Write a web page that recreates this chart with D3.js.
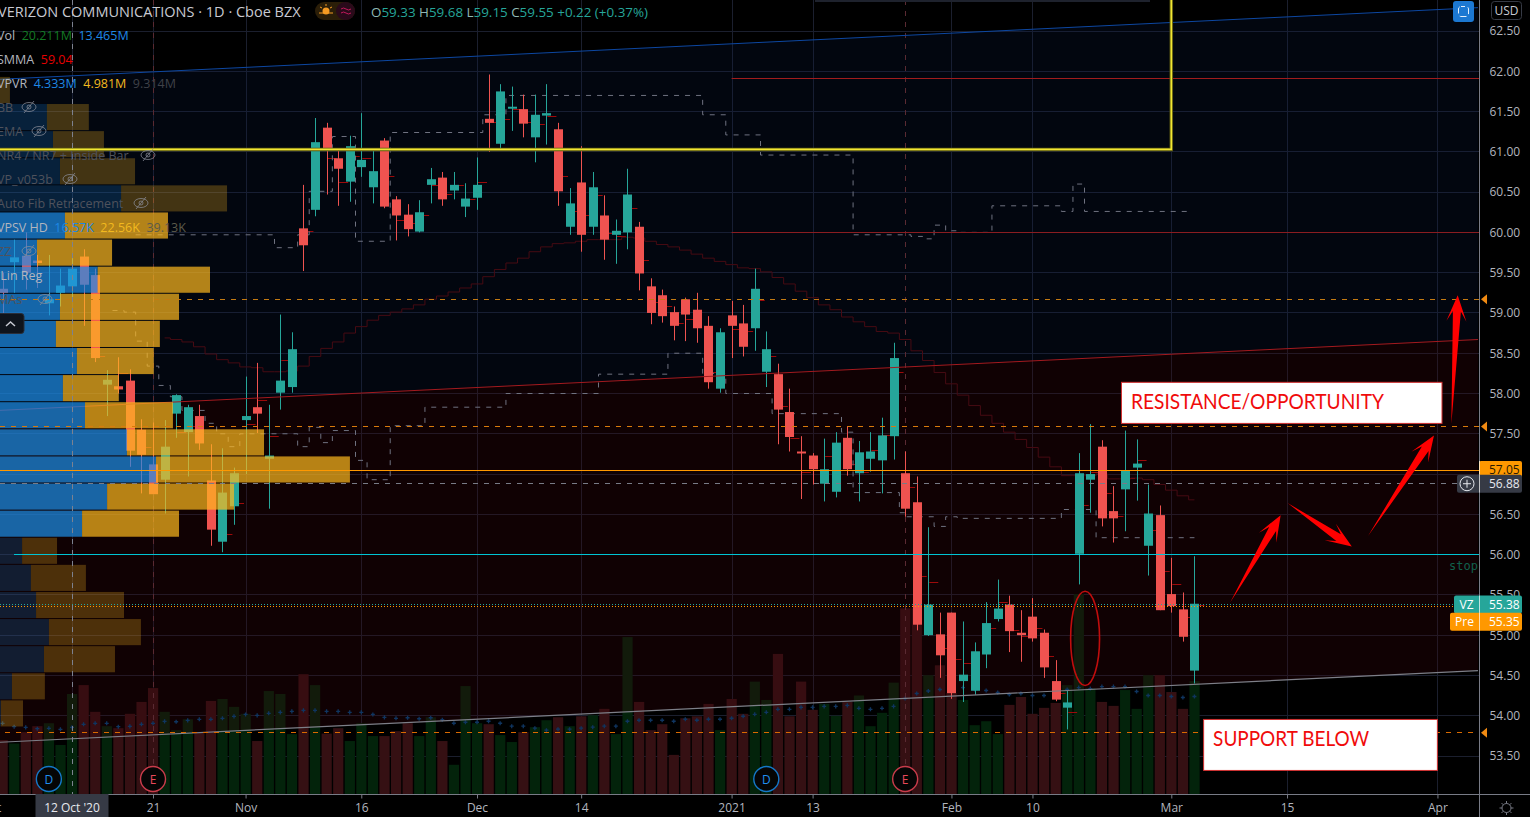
<!DOCTYPE html>
<html>
<head>
<meta charset="utf-8">
<title>VZ</title>
<script src="https://cdn.jsdelivr.net/npm/d3@7"></script>
<style>
html, body { margin: 0; padding: 0; background: #000; overflow: hidden; }
text { font-family: "Open Sans", "Noto Sans", sans-serif; }
</style>
</head>
<body>
<div id="chart"></div>
<script>
// daily bars, first one sits 6 sessions before 12 Oct '20 (bar 0)
var firstBar = -6
var opens = [59.30,59.63,59.71,59.65,59.12,59.25,
  59.33,59.70,59.47,58.11,58.09,58.16,57.55,57.12,56.93,57.75,
  57.52,57.72,56.92,56.16,56.60,57.67,57.83,57.19,58.01,58.08,
  60.05,60.28,61.30,60.92,60.63,60.81,60.56,61.14,60.41,60.22,
  60.01,60.59,60.68,60.52,60.32,60.43,61.41,61.10,61.54,61.53,
  61.18,61.45,61.28,60.07,60.62,60.07,60.21,59.97,60.00,60.07,
  59.33,59.22,59.01,59.17,59.04,58.84,58.06,58.97,58.87,58.81,
  58.27,58.24,57.77,57.28,57.23,56.88,56.78,57.45,57.01,57.19,
  57.17,57.47,57.01,56.65,55.00,55.01,55.28,54.43,54.31,54.76,
  55.20,55.38,55.03,55.23,55.03,54.43,54.10,56.01,56.93,57.34,
  56.54,56.81,57.08,56.11,56.49,55.51,55.32,54.56]
var highs = [59.50,59.91,60.00,59.72,59.72,59.55,
  59.68,59.79,59.55,58.29,58.45,58.30,57.68,57.64,57.67,57.99,
  57.86,57.86,57.37,57.32,57.08,58.21,58.38,57.86,58.98,58.76,
  60.59,61.42,61.36,61.02,61.20,61.48,61.03,61.17,60.45,60.35,
  60.40,60.80,60.75,60.75,60.61,60.93,61.96,61.84,61.81,61.71,
  61.71,61.84,61.36,60.55,61.07,60.75,60.46,60.16,60.79,60.13,
  59.43,59.29,59.08,59.19,59.25,58.96,58.81,59.15,59.10,59.55,
  58.77,58.37,58.06,57.47,57.26,57.44,57.52,57.59,57.41,57.52,
  57.70,58.63,57.28,56.97,56.34,55.28,55.28,55.17,54.91,55.41,
  55.69,55.49,55.31,55.46,55.07,54.69,54.32,57.26,57.62,57.42,
  56.85,57.54,57.43,56.87,56.61,55.96,55.53,55.98]
var lows = [58.90,59.25,59.29,59.31,58.97,59.08,
  59.15,58.84,58.39,57.72,58.00,57.09,56.76,56.75,56.51,57.45,
  56.97,57.30,56.11,56.03,56.37,57.00,57.51,56.57,57.80,58.01,
  59.52,60.20,60.47,60.33,60.38,60.69,60.36,60.30,59.90,59.95,
  60.00,60.36,60.33,60.41,60.19,60.28,61.00,61.04,61.26,61.18,
  60.87,61.09,60.33,59.97,59.76,59.97,59.66,59.61,59.79,59.28,
  58.86,58.88,58.66,58.65,58.63,58.06,58.01,58.44,58.46,58.53,
  58.08,57.37,57.28,56.69,56.87,56.66,56.71,56.98,56.66,57.03,
  56.76,57.18,56.47,55.06,54.99,54.47,54.21,54.17,54.26,54.59,
  55.17,54.79,54.67,54.92,54.47,54.18,53.83,55.63,56.52,56.35,
  56.15,56.29,56.67,55.74,55.31,55.28,54.92,54.40]
var closes = [59.25,59.69,59.50,59.62,59.17,59.34,
  59.55,59.35,58.44,58.17,58.05,57.29,57.24,56.75,57.34,57.98,
  57.83,57.38,56.31,56.77,57.01,57.72,57.75,57.23,58.16,58.55,
  59.84,61.12,61.01,60.79,61.07,60.90,60.76,60.32,60.21,60.04,
  60.25,60.66,60.41,60.59,60.42,60.59,61.36,61.75,61.56,61.35,
  61.46,61.48,60.51,60.36,59.97,60.56,59.91,60.02,60.47,59.49,
  59.00,58.96,58.84,58.98,58.81,58.14,58.76,58.84,58.58,59.30,
  58.55,57.80,57.46,57.26,57.06,57.06,57.39,57.06,57.27,57.28,
  57.48,58.44,56.57,55.13,55.38,54.75,54.28,54.51,54.80,55.15,
  55.33,55.05,55.00,54.96,54.60,54.20,54.165,57.01,57.00,56.45,
  56.45,57.05,57.13,56.51,55.31,55.36,54.98,55.39]

// volume in millions and its moving average
var volumes = [10.9,10.2,12.5,13.7,14.3,9.9,
  20.2,22.0,16.6,13.7,13.3,16.2,18.6,21.4,16.6,12.9,
  15.1,12.5,18.8,19.2,17.6,16.2,10.7,20.8,20.2,12.1,
  24.2,22.0,12.2,13.3,10.7,14.3,11.7,11.7,12.7,14.3,
  11.7,15.5,10.7,5.9,21.8,14.3,14.1,11.9,10.5,12.5,
  13.5,14.9,15.5,13.7,15.7,15.9,17.2,12.1,31.7,18.6,
  12.9,14.1,7.9,15.3,15.7,18.2,12.9,19.2,16.2,22.7,
  19.0,28.3,15.7,22.7,17.0,18.2,15.8,18.6,19.9,13.7,
  16.4,22.5,37.5,37.5,24.0,26.0,20.4,19.0,13.9,14.7,
  12.1,18.0,19.6,16.2,17.4,18.4,22.0,40.4,21.4,18.6,
  17.8,21.0,17.2,24.0,24.0,20.6,17.2,22.8]
var volumeMa = [14.27,13.6,13.46,13.19,13.26,13.06,
  13.46,14.07,14.27,14.27,13.6,13.66,14.07,14.27,14.67,14.6,
  14.87,15.08,15.08,15.28,15.68,16.08,15.88,16.29,16.49,16.69,
  16.89,16.89,16.69,16.69,16.49,16.49,16.08,15.48,15.28,15.4,
  15.2,15.4,15.0,14.3,14.5,14.5,14.7,14.3,13.7,13.7,
  13.3,12.9,13.1,13.1,13.3,13.5,13.7,13.7,14.7,14.9,
  14.9,14.9,14.7,15.1,14.9,15.1,15.1,15.3,15.7,16.1,
  16.5,17.1,17.1,17.5,17.5,17.7,17.7,17.9,17.3,17.1,
  17.3,17.7,19.3,20.3,20.8,21.1,21.5,21.5,21.1,20.9,
  20.5,20.1,20.3,19.9,19.9,20.3,21.1,21.5,21.3,21.7,
  21.7,21.7,20.7,19.9,19.9,19.7,19.5,19.7]

// SMMA, starts at bar 8 (the earlier part is lost under the profile)
var smmaFirstBar = 8
var smma = [58.69,58.67,
  58.64,58.58,58.49,58.42,58.38,58.33,58.32,58.27,58.27,58.28,
  58.34,58.46,58.56,58.64,58.75,58.83,58.91,58.97,59.01,59.05,
  59.10,59.17,59.21,59.26,59.31,59.36,59.45,59.54,59.62,59.68,
  59.76,59.82,59.86,59.87,59.89,59.91,59.91,59.91,59.94,59.93,
  59.89,59.85,59.82,59.78,59.73,59.68,59.64,59.60,59.56,59.55,
  59.51,59.44,59.36,59.27,59.19,59.10,59.04,58.95,58.89,58.83,
  58.77,58.75,58.67,58.53,58.41,58.26,58.12,57.98,57.85,57.73,
  57.63,57.52,57.43,57.33,57.21,57.09,56.98,56.98,56.98,57.00,
  56.94,56.94,56.95,56.93,56.87,56.80,56.73,56.68]

// short dark red level ticks next to the candles
var levelBars = [2,4,6,9,10,13,14,15,16,17,18,20,22,23,24,25,27,28,29,30,31,32,33,34,35,36,37,38,39,40,41,42,43,44,45,46,47,48,49,
  50,51,52,53,55,57,58,59,60,61,62,63,65,67,68,69,70,71,72,73,74,75,76,77,79,80,81,82,83,84,85,86,87,88,89,90,91,92,93,94,95,96,97]
var levelPrices = [58.47,58.25,57.33,57.52,57.60,56.26,56.64,57.62,57.92,57.47,58.42,60.02,60.92,60.63,60.95,60.92,60.70,60.16,60.12,60.21,60.59,60.48,60.59,60.42,60.63,61.37,61.41,61.53,61.37,61.35,61.45,60.70,60.27,60.21,60.46,59.99,59.96,60.30,59.66,
  59.13,59.09,58.88,58.92,58.27,58.80,58.78,59.16,58.46,57.85,57.45,57.03,57.22,57.13,57.03,57.30,57.49,58.27,56.84,55.74,55.66,54.84,54.71,54.66,55.09,55.41,55.06,54.99,55.09,54.74,54.28,54.05,56.62,57.03,56.77,56.48,56.95,57.17,56.31,55.80,55.63,55.23,55.38]

// zigzag style stepped dashed levels: [bar where the step starts, price]
var upperSteps = [[5.5,59.97],[17.5,59.81],[19.5,59.97],[20.5,60.51],[22.5,61.19],[24.5,59.89],[27.5,61.24],[35.5,61.46],[37.5,61.70],
  [54.5,61.46],[56.5,61.21],[59.5,60.96],[67.5,59.97],[72.5,59.95],[73.5,59.92],[74.5,60.09],[75.5,60.02],[76.5,60.00],[79.5,60.33],
  [85.5,60.26],[86.5,60.60],[87.5,60.26],[96.6,60.26]]
var lowerSteps = [[3.5,59.03],[4.5,59.01],[5.5,58.65],[6.5,58.34],[7.5,58.10],[8.5,57.96],[9.5,57.79],[11.5,57.63],[12.5,57.50],[13.5,57.34],
  [14.5,57.50],[19.5,57.34],[20.5,57.58],[21.5,57.39],[22.5,57.54],[24.5,57.17],[25.5,56.93],[27.5,57.60],[30.5,57.83],[37.5,58.00],
  [45.5,58.24],[51.5,58.50],[54.5,58.25],[56.5,58.00],[60.5,57.75],[66.5,57.52],[67.5,56.77],[71.5,56.52],[72,56.47],[74.5,56.35],
  [75.5,56.47],[76.5,56.45],[85.5,56.56],[88.5,56.21],[97,56.21]]

// volume profile rows, top row first, in millions
var profileUp = [0,2.08,2.35,2.66,5.37,2.88,1.64,4.333,2.66,2.48,3.41,2.79,3.77,5.63,6.92,4.75,3.64,0.98,1.37,1.60,2.17,1.95,0.53,0.04]
var profileDown = [0.44,1.86,2.26,3.33,4.70,4.57,3.33,4.981,5.28,4.61,3.41,2.48,3.90,6.08,8.60,5.63,4.30,1.55,2.44,3.90,4.08,3.15,1.46,0.98]
var profileTop = 61.93
var profileStep = 0.3365
var valueAreaFirst = 5
var valueAreaLast = 16

// channel edges, from bar -6.3 to bar 121.5
var channelBars = [-6.3, 121.5]
var blueEdge = [61.90, 62.79]
var redEdge = [57.79, 58.67]
var greyEdge = [53.67, 54.56]

var priceTicks = [62.5,62,61.5,61,60.5,60,59.5,59,58.5,58,57.5,57,56.5,56,55.5,55,54.5,54,53.5]
var timeTickBars = [-7,0,7,15,25,35,44,57,64,76,83,95,105,118]
var timeTickLabels = ['Oct',"12 Oct '20",'21','Nov','16','Dec','14','2021','13','Feb','10','Mar','15','Apr']

var eventBars = [-2,7,60,72]
var eventKinds = ['D','E','D','E']

// drawn arrows: [tail bar, tail price, tip bar, tip price]
var arrows = [[100.1,55.41,104.45,56.49],[105.05,56.64,110.6,56.10],[112,56.23,117.7,57.48],[119.2,57.62,119.75,59.22]]

var width = 1530, height = 817
var paneRight = 1479, paneBottom = 794

var svg = d3.select('#chart').append('svg')
  .attr('width', width).attr('height', height)
  .style('display', 'block').style('background', '#000')

svg.append('defs').append('clipPath').attr('id', 'pane')
  .append('rect').attr('x', 0).attr('y', 0).attr('width', paneRight).attr('height', paneBottom)

var x = d3.scaleLinear().domain([0, 95]).range([72, 1171.3])
var y = d3.scaleLinear().domain([62.5, 53.5]).range([31, 756])
var yVol = d3.scaleLinear().domain([0, 40.4]).range([paneBottom, 594])
var xProfile = d3.scaleLinear().domain([0, 9.314]).range([0, 210])

var bars = d3.range(opens.length).map(function(k){
  return {i: k + firstBar, o: opens[k], h: highs[k], l: lows[k], c: closes[k], v: volumes[k], ma: volumeMa[k]}
})

var pane = svg.append('g').attr('clip-path', 'url(#pane)')

// grid first, everything else goes over it
pane.append('g').selectAll('line').data(priceTicks).enter().append('line')
  .attr('x1', 0).attr('x2', paneRight)
  .attr('y1', function(d){ return Math.floor(y(d)) + .5 }).attr('y2', function(d){ return Math.floor(y(d)) + .5 })
  .attr('stroke', '#1b1f2e')
pane.append('g').selectAll('line').data(timeTickBars).enter().append('line')
  .attr('x1', function(d){ return Math.round(x(d)) + .5 }).attr('x2', function(d){ return Math.round(x(d)) + .5 })
  .attr('y1', 0).attr('y2', paneBottom)
  .attr('stroke', '#1b1f2e')

// volume
pane.append('g').selectAll('rect').data(bars).enter().append('rect')
  .attr('x', function(d){ return x(d.i) - 5 })
  .attr('width', 10.2)
  .attr('y', function(d){ return yVol(d.v) })
  .attr('height', function(d){ return paneBottom - yVol(d.v) })
  .attr('fill', function(d){ return d.c > d.o ? '#03230b' : '#351013' })

// channel fills sit on top of the volume bars, that is why the bars change tint at the grey line
function channelFill(top, bottom, color){
  var area = d3.area()
    .x(function(d){ return x(d) })
    .y0(function(d, k){ return y(bottom[k]) })
    .y1(function(d, k){ return y(top[k]) })
  pane.append('path').datum(channelBars).attr('d', area).attr('fill', color)
}
channelFill(blueEdge, redEdge, 'rgba(10,30,75,.2)')
channelFill(redEdge, greyEdge, 'rgba(62,2,12,.25)')

// volume average crosses
pane.append('g').selectAll('path').data(bars).enter().append('path')
  .attr('d', d3.symbol().type(d3.symbolCross).size(9))
  .attr('transform', function(d){ return 'translate(' + x(d.i) + ',' + yVol(d.ma) + ')' })
  .attr('fill', '#0f3560')

// dividend and earnings day guides
pane.append('g').selectAll('line').data([7, 72]).enter().append('line')
  .attr('x1', function(d){ return Math.round(x(d)) + .5 }).attr('x2', function(d){ return Math.round(x(d)) + .5 })
  .attr('y1', 0).attr('y2', 764)
  .attr('stroke', '#5a2a32').attr('stroke-dasharray', '5 6')

// red level ticks
pane.append('g').selectAll('line').data(levelBars).enter().append('line')
  .attr('x1', function(d){ return x(d) + 1 }).attr('x2', function(d){ return x(d) + 10 })
  .attr('y1', function(d, k){ return Math.round(y(levelPrices[k])) + .5 })
  .attr('y2', function(d, k){ return Math.round(y(levelPrices[k])) + .5 })
  .attr('stroke', '#9c0a0a').attr('stroke-width', 1)

// SMMA
var smmaLine = d3.line()
  .x(function(d, k){ return x(k + smmaFirstBar) })
  .y(function(d){ return y(d) })
  .curve(d3.curveStep)
pane.append('path').datum(smma).attr('d', smmaLine)
  .attr('fill', 'none').attr('stroke', '#470b13').attr('stroke-width', 1)

// stepped dashed levels
var stepLine = d3.line()
  .x(function(d){ return x(d[0]) })
  .y(function(d){ return y(d[1]) })
  .curve(d3.curveStepAfter)
;[upperSteps, lowerSteps].forEach(function(steps){
  pane.append('path').datum(steps).attr('d', stepLine)
    .attr('fill', 'none').attr('stroke', '#6f7280').attr('stroke-width', 1).attr('stroke-dasharray', '5 6')
})

// candles
var candleUp = '#26a69a', candleDown = '#ef5350'
var candles = pane.append('g').selectAll('g').data(bars).enter().append('g')
candles.append('line')
  .attr('x1', function(d){ return Math.round(x(d.i)) + .5 }).attr('x2', function(d){ return Math.round(x(d.i)) + .5 })
  .attr('y1', function(d){ return y(d.h) }).attr('y2', function(d){ return y(d.l) })
  .attr('stroke', function(d){ return d.c > d.o ? candleUp : candleDown })
candles.append('rect')
  .attr('x', function(d){ return Math.round(x(d.i)) - 4 })
  .attr('width', 9)
  .attr('y', function(d){ return y(Math.max(d.o, d.c)) })
  .attr('height', function(d){ return Math.max(2, Math.abs(y(d.o) - y(d.c))) })
  .attr('fill', function(d){ return d.c > d.o ? candleUp : candleDown })

// channel edges
function edge(prices, color, w){
  var line = d3.line().x(function(d){ return x(d) }).y(function(d, k){ return y(prices[k]) })
  pane.append('path').datum(channelBars).attr('d', line)
    .attr('fill', 'none').attr('stroke', color).attr('stroke-width', w)
}
edge(blueEdge, '#0d47a1', 1)
edge(redEdge, '#a31a1f', 1)
edge(greyEdge, '#7d7f88', 1.2)

// volume profile, translucent so the candles still show through
var rowHeight = y(0) - y(profileStep) - 1
var rows = profileUp.map(function(d, k){
  return {up: d, down: profileDown[k], k: k, price: profileTop - k * profileStep}
})
var profile = pane.append('g').selectAll('g').data(rows).enter().append('g')
function inValueArea(d){ return d.k >= valueAreaFirst && d.k <= valueAreaLast }
profile.append('rect')
  .attr('x', 0).attr('y', function(d){ return y(d.price) }).attr('height', rowHeight)
  .attr('width', function(d){ return xProfile(d.up) })
  .attr('fill', function(d){ return inValueArea(d) ? 'rgba(30,144,235,.7)' : 'rgba(30,144,235,.2)' })
profile.append('rect')
  .attr('x', function(d){ return xProfile(d.up) }).attr('y', function(d){ return y(d.price) }).attr('height', rowHeight)
  .attr('width', function(d){ return xProfile(d.down) })
  .attr('fill', function(d){ return inValueArea(d) ? 'rgba(255,185,30,.7)' : 'rgba(255,185,30,.26)' })

// horizontal levels
function level(price, fromX, color, w, dash){
  var yy = Math.floor(y(price)) + .5
  pane.append('line').attr('x1', fromX).attr('x2', paneRight).attr('y1', yy).attr('y2', yy)
    .attr('stroke', color).attr('stroke-width', w).attr('stroke-dasharray', dash || null)
}
level(61.91, x(57), '#a01c1c', 1)
level(60.00, x(57), '#8a1c20', 1)
level(59.17, 0, '#c47a12', 1, '5 6')
level(57.59, 0, '#d97a0c', 1, '5 6')
level(57.05, 0, '#ff9800', 1)
level(56.88, 0, '#787b86', 1, '5 6')
level(56.00, 14, '#00c4d4', 1)
level(55.38, 0, '#26a69a', 1, '1 2')
level(55.35, 0, '#ff9800', 1, '1 2')
level(53.79, 5, '#d96a00', 1, '5 6')

// yellow box, top edge runs off the chart
var boxRight = 95
var yellowPath = d3.line().x(function(d){ return x(d[0]) }).y(function(d){ return y(d[1]) })
var yellowPoints = [[-7, 61.03], [boxRight, 61.03], [boxRight, 63.2]]
pane.append('path').datum(yellowPoints).attr('d', yellowPath).attr('fill', 'none').attr('stroke', '#5c5a12').attr('stroke-width', 3.5)
pane.append('path').datum(yellowPoints).attr('d', yellowPath).attr('fill', 'none').attr('stroke', '#f2e632').attr('stroke-width', 1.6)

// crosshair on 12 Oct
pane.append('line').attr('x1', Math.round(x(0)) + .5).attr('x2', Math.round(x(0)) + .5).attr('y1', 0).attr('y2', paneBottom)
  .attr('stroke', '#7d8290').attr('stroke-dasharray', '5 6')

// red ellipse round the big volume day
pane.append('ellipse')
  .attr('cx', x(87.55)).attr('cy', y(54.96))
  .attr('rx', x(1.25) - x(0)).attr('ry', y(0) - y(0.585))
  .attr('fill', 'none').attr('stroke', '#c00d0d').attr('stroke-width', 1.6)

pane.append('text').attr('x', paneRight - 1).attr('y', y(55.81)).attr('text-anchor', 'end')
  .attr('font-size', 12).attr('fill', '#10604c').style('font-family', '"DejaVu Sans Mono", monospace').text('stop')

// arrows taper from the tail out to the head
function arrowPath(a){
  var x0 = x(a[0]), y0 = y(a[1]), x1 = x(a[2]), y1 = y(a[3])
  var len = Math.hypot(x1 - x0, y1 - y0)
  var ux = (x1 - x0) / len, uy = (y1 - y0) / len
  var nx = -uy, ny = ux
  var headLen = 26, headHalf = 10, neck = 16, neckHalf = 4
  var pts = [
    [x0, y0],
    [x1 - ux * neck + nx * neckHalf, y1 - uy * neck + ny * neckHalf],
    [x1 - ux * headLen + nx * headHalf, y1 - uy * headLen + ny * headHalf],
    [x1, y1],
    [x1 - ux * headLen - nx * headHalf, y1 - uy * headLen - ny * headHalf],
    [x1 - ux * neck - nx * neckHalf, y1 - uy * neck - ny * neckHalf]
  ]
  return d3.line()(pts) + 'Z'
}
pane.append('g').selectAll('path').data(arrows).enter().append('path')
  .attr('d', arrowPath).attr('fill', '#ff0000')

// annotation boxes, text squeezed to the narrow face of the original
function noteBox(x1, x2, priceTop, priceBottom, label, textY, textWidth){
  pane.append('rect').attr('x', x(x1) + .5).attr('width', x(x2) - x(x1))
    .attr('y', y(priceTop) + .5).attr('height', y(priceBottom) - y(priceTop))
    .attr('fill', '#fff').attr('stroke', '#d32f2f')
  pane.append('text').attr('x', x(x1) + 10).attr('y', textY)
    .attr('font-size', 21).attr('fill', '#f00b0b').style('font-family', 'Lato, sans-serif')
    .attr('textLength', textWidth).attr('lengthAdjust', 'spacingAndGlyphs').text(label)
}
noteBox(90.65, 118.35, 58.145, 57.635, 'RESISTANCE/OPPORTUNITY', 409, 253)
noteBox(97.75, 117.95, 53.96, 53.327, 'SUPPORT BELOW', 746, 156)

// earnings and dividend badges
var badges = svg.append('g').selectAll('g').data(eventBars).enter().append('g')
  .attr('transform', function(d){ return 'translate(' + x(d) + ',779)' })
badges.append('circle').attr('r', 12.5).attr('fill', '#050505')
  .attr('stroke', function(d, k){ return eventKinds[k] == 'D' ? '#1478c8' : '#c93c4b' }).attr('stroke-width', 1.4)
badges.append('text').attr('text-anchor', 'middle').attr('y', 4.5).attr('font-size', 12)
  .attr('fill', function(d, k){ return eventKinds[k] == 'D' ? '#2190ee' : '#e8485a' })
  .text(function(d, k){ return eventKinds[k] })

// axes panels
svg.append('rect').attr('x', paneRight).attr('y', 0).attr('width', width - paneRight).attr('height', height).attr('fill', '#000')
svg.append('rect').attr('x', 0).attr('y', paneBottom).attr('width', width).attr('height', height - paneBottom).attr('fill', '#000')

var axisRight = d3.axisRight(y).tickValues(priceTicks).tickFormat(d3.format('.2f')).tickSize(0).tickPadding(10)
var gRight = svg.append('g').attr('transform', 'translate(' + (paneRight + .5) + ',0)').call(axisRight)
gRight.selectAll('text').attr('fill', '#b2b5be').attr('font-size', 12).style('font-family', '"Open Sans", sans-serif')
gRight.select('.domain').attr('stroke', '#787b86').attr('d', 'M0,0V' + paneBottom)

var axisBottom = d3.axisBottom(x).tickValues(timeTickBars)
  .tickFormat(function(d, k){ return timeTickLabels[k] }).tickSize(4).tickPadding(5)
var gBottom = svg.append('g').attr('transform', 'translate(0,' + (paneBottom + .5) + ')').call(axisBottom)
gBottom.selectAll('text').attr('fill', '#b2b5be').attr('font-size', 12).style('font-family', '"Open Sans", sans-serif')
gBottom.selectAll('line').attr('stroke', '#787b86')
gBottom.select('.domain').attr('stroke', '#787b86').attr('d', 'M0,0H' + width)
svg.append('line').attr('x1', paneRight + .5).attr('x2', paneRight + .5).attr('y1', paneBottom).attr('y2', height).attr('stroke', '#787b86')

// crosshair date label sits over the bottom axis
var dateBox = svg.append('g').attr('transform', 'translate(' + x(0) + ',' + paneBottom + ')')
dateBox.append('rect').attr('x', -36.5).attr('y', 0).attr('width', 73).attr('height', 23).attr('fill', '#363a45')
dateBox.append('text').attr('text-anchor', 'middle').attr('y', 18).attr('font-size', 12).attr('fill', '#e6e8ee').text("12 Oct '20")

// price labels on the right axis, shift keeps two near prices from stacking
function priceTag(price, left, fill, label, value, color, shift){
  var yy = y(price) + (shift || 0)
  var g = svg.append('g').attr('transform', 'translate(0,' + yy + ')')
  g.append('rect').attr('x', left).attr('y', -9).attr('width', 1522 - left).attr('height', 18).attr('rx', 2).attr('fill', fill)
  g.append('line').attr('x1', paneRight + .5).attr('x2', paneRight + .5).attr('y1', -9).attr('y2', 9).attr('stroke', '#fff').attr('stroke-opacity', .7)
  if (label) g.append('text').attr('x', (left + paneRight) / 2).attr('y', 4).attr('text-anchor', 'middle').attr('font-size', 12).attr('fill', color).text(label)
  g.append('text').attr('x', 1489).attr('y', 4).attr('font-size', 12).attr('fill', color).text(value)
  return g
}
priceTag(57.05, paneRight, '#ff9800', '', '57.05', '#2a1a00')
var crossTag = priceTag(56.88, 1457, '#363a45', '', '56.88', '#e6e8ee')
crossTag.append('circle').attr('cx', 1467).attr('cy', 0).attr('r', 7).attr('fill', 'none').attr('stroke', '#e6e8ee')
crossTag.append('path').attr('d', 'M1463,0H1471M1467,-4V4').attr('stroke', '#e6e8ee')
priceTag(55.38, 1454, '#26a69a', 'VZ', '55.38', '#fff')
priceTag(55.35, 1450, '#ff9800', 'Pre', '55.35', '#fff', 14.7)

// little orange flags for the alert levels
svg.append('g').selectAll('path').data([59.17, 57.59, 53.79]).enter().append('path')
  .attr('d', 'M0,0L6,-5V5Z')
  .attr('transform', function(d){ return 'translate(' + (paneRight + 2) + ',' + y(d) + ')' })
  .attr('fill', '#f08a12')

// USD box and corner button
svg.append('rect').attr('x', 1491.5).attr('y', 1.5).attr('width', 30).attr('height', 18).attr('rx', 3).attr('fill', '#000').attr('stroke', '#363a45')
svg.append('text').attr('x', 1506.5).attr('y', 15).attr('text-anchor', 'middle').attr('font-size', 12).attr('fill', '#c8cad2').text('USD')
svg.append('rect').attr('x', 1453).attr('y', 1).attr('width', 21).attr('height', 21).attr('rx', 3).attr('fill', '#1c78d2')
svg.append('rect').attr('x', 1458.5).attr('y', 6.5).attr('width', 10).attr('height', 10).attr('rx', 2.5).attr('fill', 'none').attr('stroke', '#e3effb').attr('stroke-dasharray', '7 3').attr('stroke-dashoffset', 3)
svg.append('rect').attr('x', 815).attr('y', 0).attr('width', 335).attr('height', 2).attr('fill', '#1e222d')

// gear at the bottom right
var gear = svg.append('g').attr('transform', 'translate(1506.5,808)').attr('stroke', '#787b86').attr('fill', 'none')
gear.append('circle').attr('r', 4.5)
gear.selectAll('line').data(d3.range(8)).enter().append('line')
  .attr('x1', function(d){ return 4.5 * Math.cos(d * Math.PI / 4) }).attr('y1', function(d){ return 4.5 * Math.sin(d * Math.PI / 4) })
  .attr('x2', function(d){ return 7 * Math.cos(d * Math.PI / 4) }).attr('y2', function(d){ return 7 * Math.sin(d * Math.PI / 4) })

// legend, left edge of the text is cut by the window in the source as well
var header = svg.append('text').attr('x', -2).attr('y', 17).attr('font-size', 14.5).attr('fill', '#c8cad2')
header.text('VERIZON COMMUNICATIONS · 1D · Cboe BZX')

var pill = svg.append('g')
pill.append('rect').attr('x', 315).attr('y', 2).attr('width', 40).attr('height', 18).attr('rx', 9).attr('fill', '#2b1e08')
pill.append('rect').attr('x', 336).attr('y', 2).attr('width', 19).attr('height', 18).attr('rx', 9).attr('fill', '#2a0a1a')
pill.append('circle').attr('cx', 326).attr('cy', 11).attr('r', 3.5).attr('fill', '#f59a23')
pill.append('path').attr('d', 'M319,13H333M326,4V6M320,7L322,8M332,7L330,8').attr('stroke', '#f59a23')
pill.append('path').attr('d', 'M341,9q2.5,-2 5,0t5,0M341,13q2.5,-2 5,0t5,0').attr('stroke', '#c2185b').attr('fill', 'none')

var quote = svg.append('text').attr('x', 371).attr('y', 17).attr('font-size', 13.4)
var quoteParts = [['O', '#8fb8b4'], ['59.33 ', '#26a69a'], ['H', '#8fb8b4'], ['59.68 ', '#26a69a'], ['L', '#8fb8b4'], ['59.15 ', '#26a69a'], ['C', '#8fb8b4'], ['59.55 ', '#26a69a'], ['+0.22 (+0.37%)', '#26a69a']]
quote.selectAll('tspan').data(quoteParts).enter().append('tspan')
  .attr('fill', function(d){ return d[1] }).text(function(d){ return d[0] })

function legendRow(yy, parts){
  var t = svg.append('text').attr('x', -3).attr('y', yy).attr('font-size', 12.5).attr('xml:space', 'preserve')
  t.selectAll('tspan').data(parts).enter().append('tspan')
    .attr('fill', function(d){ return d[1] }).text(function(d){ return d[0] })
}
var legendText = '#b2b5be', dimText = '#4f525c'
legendRow(40, [['Vol  ', legendText], ['20.211M  ', '#137a24'], ['13.465M', '#1e88e5']])
legendRow(64, [['SMMA  ', legendText], ['59.04', '#e60000']])
legendRow(88, [['VPVR  ', legendText], ['4.333M  ', '#1e88e5'], ['4.981M  ', '#f2b91f'], ['9.314M', '#3f4148']])
legendRow(232, [['VPSV HD  ', legendText], ['16.57K  ', '#1e88e5'], ['22.56K  ', '#f2b91f'], ['39.13K', '#5c5a4a']])
legendRow(280, [[' Lin Reg', legendText]])

var hiddenNames = ['BB', 'EMA', 'NR4 / NR7 + Inside Bar', 'VP_v053b', 'Auto Fib Retracement', 'ZZ', 'MAs']
var hiddenRows = [112, 136, 160, 184, 208, 256, 304]
var hiddenEyes = [29, 39, 148, 70, 141, 29, 45]
hiddenNames.forEach(function(name, k){
  svg.append('text').attr('x', -3).attr('y', hiddenRows[k]).attr('font-size', 12.5).attr('fill', dimText).text(name)
  var eye = svg.append('g').attr('transform', 'translate(' + hiddenEyes[k] + ',' + (hiddenRows[k] - 5) + ')')
    .attr('fill', 'none').attr('stroke', '#8b8e98').attr('stroke-opacity', .75)
  eye.append('ellipse').attr('rx', 7).attr('ry', 4.5)
  eye.append('circle').attr('r', 2)
  eye.append('line').attr('x1', -5).attr('y1', 6).attr('x2', 5).attr('y2', -6)
})

// collapse button
svg.append('rect').attr('x', -3).attr('y', 313.5).attr('width', 27).attr('height', 20).attr('rx', 3).attr('fill', '#0f141c').attr('stroke', '#2a2e39')
svg.append('path').attr('d', 'M6,326L10.5,322L15,326').attr('fill', 'none').attr('stroke', '#c8cad2').attr('stroke-width', 1.5)
</script>
</body>
</html>
